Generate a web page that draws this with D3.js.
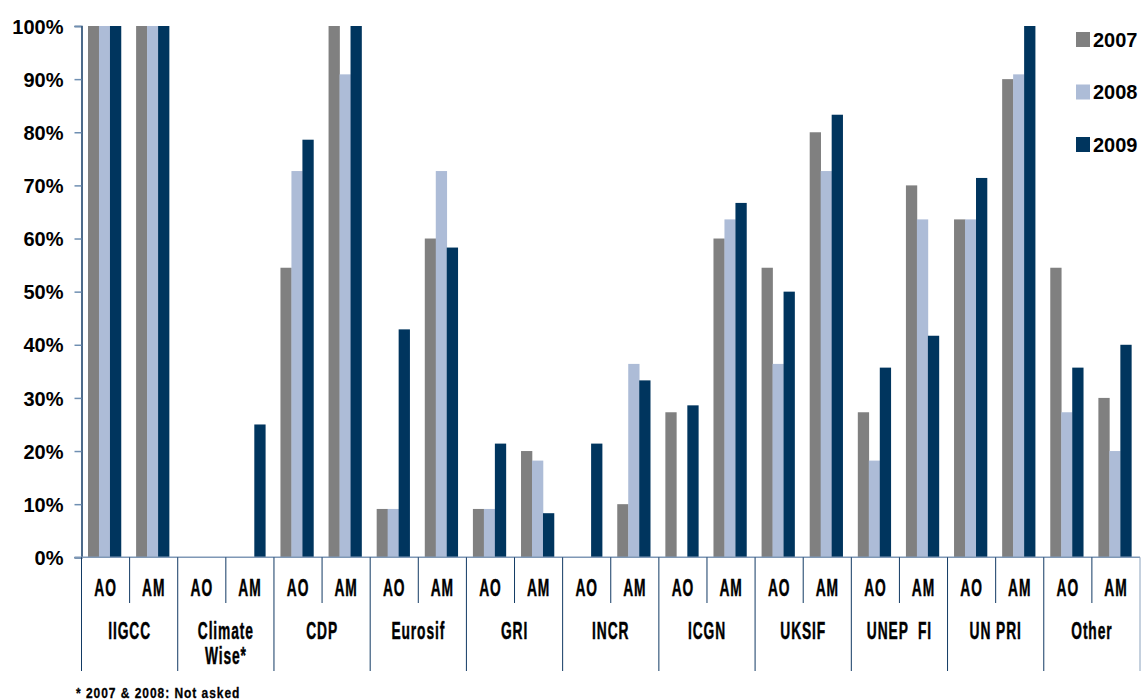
<!DOCTYPE html>
<html>
<head>
<meta charset="utf-8">
<script src="https://cdn.jsdelivr.net/npm/d3@7"></script>
<style>
  html, body { margin: 0; padding: 0; background: #fff; }
  svg { display: block; }
  .tick-label { font-family: "Liberation Sans", Arial, sans-serif; font-weight: bold; font-size: 20px; fill: #000; }
  .narrow { font-family: "Liberation Sans", Arial, sans-serif; font-weight: bold; fill: #000; stroke: #000; stroke-width: 0.45px; }
</style>
</head>
<body>
<svg id="chart" width="1141" height="700"></svg>
<script>
// ---- Data ----
const groups = ["IIGCC", "Climate Wise*", "CDP", "Eurosif", "GRI", "INCR", "ICGN", "UKSIF", "UNEP  FI", "UN PRI", "Other"];
const subCats = ["AO", "AM"];
const years = ["2007", "2008", "2009"];
// values per (group, subcat) in order: AO, AM for each group
const values2007 = [100, 100, 0, 0, 54.5, 100, 9.1, 60, 9.1, 20, 0, 10, 27.3, 60, 54.5, 80, 27.3, 70, 63.6, 90, 54.5, 30];
const values2008 = [100, 100, 0, 0, 72.7, 90.9, 9.1, 72.7, 9.1, 18.2, 0, 36.4, 0, 63.6, 36.4, 72.7, 18.2, 63.6, 63.6, 90.9, 27.3, 20];
const values2009 = [100, 100, 0, 25, 78.6, 100, 42.9, 58.3, 21.4, 8.3, 21.4, 33.3, 28.6, 66.7, 50, 83.3, 35.7, 41.7, 71.4, 100, 35.7, 40];
const yTicks = [0, 10, 20, 30, 40, 50, 60, 70, 80, 90, 100];
const footnote = "* 2007 & 2008: Not asked";
const colors = { "2007": "#808080", "2008": "#adbcd7", "2009": "#00355e" };

// ---- Layout ----
const svg = d3.select("#chart");
const mLeft = 81.5, mRight = 1140, mTop = 26, mBottom = 557.3;
const squeeze = 0.6;

const slots = [];
groups.forEach((g, gi) => subCats.forEach((s, si) => slots.push({ key: gi + "-" + si, group: g, sub: s, idx: gi * 2 + si })));
const seriesVals = { "2007": values2007, "2008": values2008, "2009": values2009 };

const x = d3.scaleBand().domain(slots.map(d => d.key)).range([mLeft, mRight]).padding(0);
const xg = d3.scaleBand().domain(groups).range([mLeft, mRight]).padding(0);
const bw = x.bandwidth();
const xi = d3.scaleBand().domain(years).range([bw * 0.135, bw * 0.82]).padding(0);
const y = d3.scaleLinear().domain([0, 100]).range([mBottom, mTop]);

// Bars
const slotG = svg.append("g").selectAll("g").data(slots).join("g")
  .attr("transform", d => `translate(${x(d.key)},0)`);
slotG.selectAll("rect").data(d => years.map(yr => ({ yr, v: seriesVals[yr][d.idx] })))
  .join("rect")
  .attr("x", d => xi(d.yr))
  .attr("width", xi.bandwidth() + 0.3)
  .attr("y", d => y(d.v))
  .attr("height", d => y(0) - y(d.v))
  .attr("fill", d => colors[d.yr]);

// Y axis
const yAxis = d3.axisLeft(y).tickValues(yTicks).tickFormat(d => d + "%").tickSize(7).tickPadding(11);
const ya = svg.append("g").attr("transform", `translate(${mLeft},0)`).call(yAxis);
ya.select(".domain").attr("stroke", "#123a64").attr("stroke-width", 1.5);
ya.selectAll(".tick line").attr("stroke", "#6f8fb2").attr("stroke-width", 1.5);
ya.selectAll(".tick text").attr("class", "tick-label").attr("dy", "0.36em");

// X axis baseline
svg.append("line").attr("x1", mLeft - 7).attr("x2", mRight).attr("y1", mBottom).attr("y2", mBottom)
  .attr("stroke", "#7f98b6").attr("stroke-width", 1.5);

// Sub-category separators (short)
svg.append("g").selectAll("line").data(slots.filter(d => d.idx % 2 === 1))
  .join("line")
  .attr("x1", d => x(d.key)).attr("x2", d => x(d.key))
  .attr("y1", mBottom).attr("y2", 603)
  .attr("stroke", "#123a64").attr("stroke-width", 1);

// Group separators (long)
svg.append("g").selectAll("line").data(groups.concat(["__end"]))
  .join("line")
  .attr("x1", d => d === "__end" ? mRight : xg(d)).attr("x2", d => d === "__end" ? mRight : xg(d))
  .attr("y1", mBottom).attr("y2", 671)
  .attr("stroke", d => d === "__end" ? "#8aa2bd" : "#123a64").attr("stroke-width", 1);

// Sub-category labels
svg.append("g").selectAll("text").data(slots).join("text")
  .attr("class", "narrow")
  .attr("transform", d => `translate(${x(d.key) + bw / 2},596) scale(${squeeze},1)`)
  .attr("text-anchor", "middle")
  .style("font-size", "23px")
  .style("letter-spacing", "1.5px")
  .text(d => d.sub);

// Group labels
const glines = [];
groups.forEach(g => {
  const parts = g === "Climate Wise*" ? ["Climate", "Wise*"] : [g];
  parts.forEach((p, i) => glines.push({ g, p, i }));
});
svg.append("g").selectAll("text").data(glines).join("text")
  .attr("class", "narrow")
  .attr("transform", d => `translate(${xg(d.g) + xg.bandwidth() / 2},${639 + d.i * 25}) scale(${squeeze},1)`)
  .attr("text-anchor", "middle")
  .attr("xml:space", "preserve")
  .style("white-space", "pre")
  .style("font-size", "23px")
  .style("letter-spacing", "1.5px")
  .text(d => d.p);

// Footnote
svg.append("text").attr("class", "narrow")
  .attr("transform", `translate(76,698) scale(0.8,1)`)
  .style("font-size", "15px").style("letter-spacing", "1.2px").style("stroke-width", "0.3px")
  .style("white-space", "pre").text(footnote);

// Legend
const leg = svg.append("g").selectAll("g").data(years).join("g")
  .attr("transform", (d, i) => `translate(1076,${32 + i * 52.5})`);
leg.append("rect").attr("width", 14).attr("height", 15).attr("fill", d => colors[d]);
leg.append("text").attr("x", 17).attr("y", 14.5)
  .style("font-family", "'Liberation Sans', Arial, sans-serif").style("font-weight", "bold").style("font-size", "20px")
  .text(d => d);
</script>
</body>
</html>
